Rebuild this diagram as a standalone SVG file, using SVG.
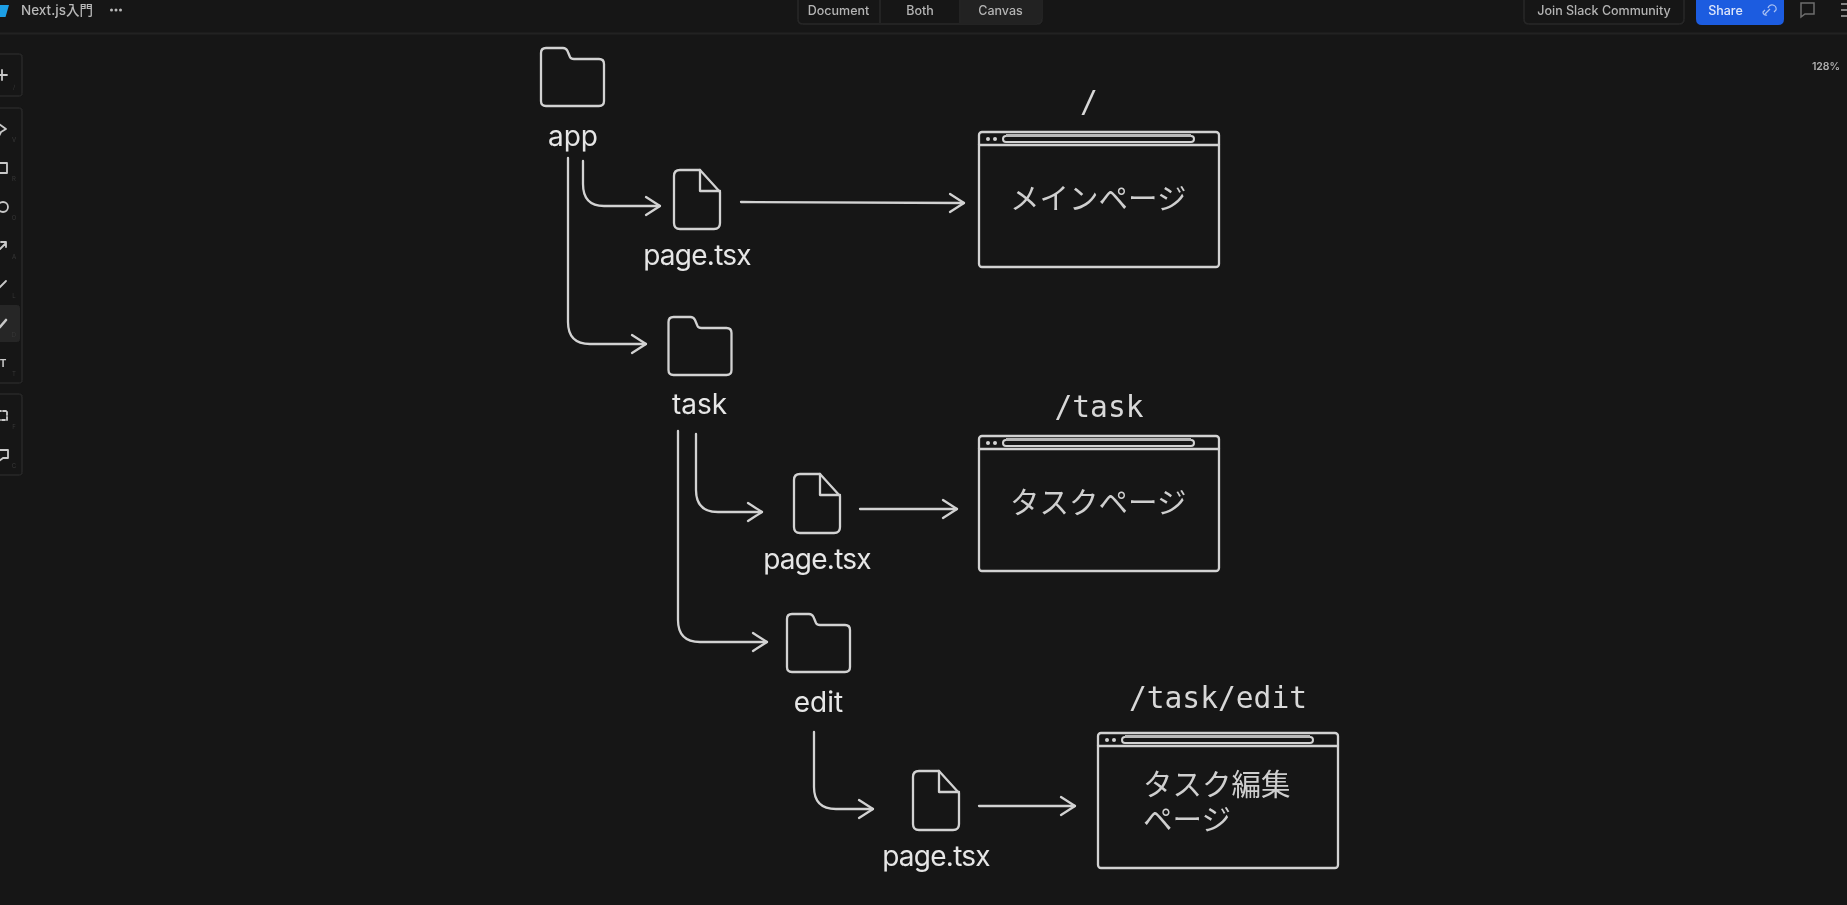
<svg xmlns="http://www.w3.org/2000/svg" width="1847" height="905" viewBox="0 0 1847 905">
<style>
.s{fill:none;stroke:#d2d2d2;stroke-width:2.3;stroke-linecap:round;stroke-linejoin:round}
.n{font-family:"Inter","Liberation Sans",sans-serif;font-size:28px;fill:#e6e6e6;text-anchor:middle}
.p{letter-spacing:-.75px}
.j{font-family:"Noto Sans CJK JP",sans-serif;font-weight:400;font-size:29.5px;fill:#cfcfcf}
.m{font-family:"DejaVu Sans Mono","Liberation Mono",monospace;font-size:29.6px;fill:#d8d8d8;text-anchor:middle}
.u{font-family:"Inter","Liberation Sans",sans-serif;font-size:12.5px;font-weight:500;fill:#b4b4b4;text-anchor:middle}
.b{fill:none;stroke:#262626;stroke-width:1.5}
.i{fill:none;stroke:#c8c8c8;stroke-width:1.8;stroke-linecap:round;stroke-linejoin:round}
.k{font-family:"Inter","Liberation Sans",sans-serif;font-size:6px;fill:#383838;text-anchor:middle}
</style>
<defs>
<filter id="soft" x="0" y="0" width="1" height="1"><feGaussianBlur stdDeviation="0.55"/></filter>
<marker id="ah" markerUnits="userSpaceOnUse" markerWidth="20" markerHeight="24" refX="15" refY="10" orient="auto" overflow="visible"><path d="M1 1 L15 10 L1 19" fill="none" stroke="#d2d2d2" stroke-width="2.3" stroke-linecap="round" stroke-linejoin="round"/></marker>
<g id="folder"><path class="s" d="M5 0H22Q25 0 26.500 3L29 9Q30 11 33 11H58Q63 11 63 16V53Q63 58 58 58H5Q0 58 0 53V5Q0 0 5 0Z"/></g>
<g id="file"><path class="s" d="M6 0H26L46 22V53Q46 59 40 59H6Q0 59 0 53V6Q0 0 6 0Z"/><path class="s" d="M26 0V21H46"/></g>
<g id="win"><rect class="s" x="0" y="0" width="240" height="135" rx="3"/><path class="s" d="M0 13H240"/><rect class="s" x="24" y="4" width="191" height="6" rx="3" style="stroke-width:2"/><path d="M27 3.500H212" stroke="#b8b8b8" stroke-width="3"/><circle cx="9" cy="7" r="2" fill="#d2d2d2"/><circle cx="16" cy="7" r="2" fill="#d2d2d2"/></g>
</defs>
<rect width="1847" height="905" fill="#161616"/>
<g filter="url(#soft)">
<g id="topbar">
<path d="M0 33.500H1847" stroke="#212121" stroke-width="2"/>
<path d="M0 5H9L5.500 17H0Z" fill="#1f9fe6"/>
<text x="21" y="15" font-family="Inter,'Noto Sans CJK JP',sans-serif" font-size="13.500" font-weight="500" fill="#b8b8b8">Next.js入門</text>
<g fill="#b8b8b8"><circle cx="111.500" cy="10" r="1.500"/><circle cx="116" cy="10" r="1.500"/><circle cx="120.500" cy="10" r="1.500"/></g>
<path d="M961 0H1042V19Q1042 24 1037 24H961Z" fill="#222"/>
<path class="b" d="M798 0V19Q798 24 803 24H1037Q1042 24 1042 19V0M880 0V24M960 0V24"/>
<text class="u" x="838.500" y="15">Document</text><text class="u" x="920" y="15">Both</text><text class="u" x="1000.500" y="15">Canvas</text>
<path class="b" d="M1524 0V19Q1524 24 1529 24H1679Q1684 24 1684 19V0"/>
<text class="u" x="1604" y="15">Join Slack Community</text>
<path d="M1696 0H1784V19Q1784 25 1778 25H1702Q1696 25 1696 19Z" fill="#1f5ce0"/>
<text class="u" x="1725.500" y="15" style="fill:#dfe8fb">Share</text>
<path d="M1765 14L1770 9M1767 15a3 3 0 0 1-4-3l2-2M1768 8a3 3 0 0 1 8 2l-2 2" fill="none" stroke="#a9c2f2" stroke-width="1.200"/>
<path d="M1801 3H1814V14H1805L1801 17Z" fill="none" stroke="#6e6e6e" stroke-width="1.500"/>
<path d="M1841 4H1847M1841 10H1847M1841 16H1847" stroke="#a8a8a8" stroke-width="1.500"/>
<text x="1826" y="70" font-family="Inter,sans-serif" font-size="10.500" font-weight="600" fill="#b0b0b0" text-anchor="middle">128%</text>
</g>
<g id="toolbar">
<rect x="-6" y="54" width="28" height="42" rx="3" class="b"/>
<rect x="-6" y="108" width="28" height="275" rx="3" class="b"/>
<rect x="-6" y="394" width="28" height="81" rx="3" class="b"/>
<rect x="-6" y="305" width="26" height="37" rx="3" fill="#262626"/>
<path class="i" d="M-3 75H7M2 70V80"/>
<path class="i" d="M-1 124L6 129L1 132L-1 136"/>
<path class="i" d="M-2 163H7V173H-2"/>
<circle class="i" cx="3" cy="207" r="5"/>
<path class="i" d="M0 249L6 243M1 242H6V247"/>
<path class="i" d="M-1 288L6 281"/>
<path class="i" d="M0 327L6 320" style="stroke-width:2.600"/>
<text x="3" y="367" font-family="Inter,sans-serif" font-size="10" font-weight="700" fill="#c8c8c8" text-anchor="middle">T</text>
<path class="i" stroke-dasharray="3 2" d="M-2 411H7V420H-2"/>
<path class="i" d="M-2 450H8V458H3L-1 461"/>
<text class="k" x="14" y="89">/</text><text class="k" x="14" y="142">V</text><text class="k" x="14" y="181">R</text><text class="k" x="14" y="220">O</text><text class="k" x="14" y="259">A</text><text class="k" x="14" y="298">L</text><text class="k" x="14" y="337">D</text><text class="k" x="14" y="376">T</text><text class="k" x="14" y="429">F</text><text class="k" x="14" y="468">C</text>
</g>
<g id="connectors">
<path class="s" marker-end="url(#ah)" d="M583 161V184Q583 206 604 206H660"/>
<path class="s" marker-end="url(#ah)" d="M741 202L964 203"/>
<path class="s" marker-end="url(#ah)" d="M568 158V322Q568 344 590 344H646"/>
<path class="s" marker-end="url(#ah)" d="M696 434V490Q696 512 718 512H762"/>
<path class="s" marker-end="url(#ah)" d="M860 509H957"/>
<path class="s" marker-end="url(#ah)" d="M678 431V620Q678 642 700 642H767"/>
<path class="s" marker-end="url(#ah)" d="M814 732V787Q814 809 836 809H873"/>
<path class="s" marker-end="url(#ah)" d="M979 806H1075"/>
</g>
<g id="app"><use href="#folder" x="541" y="48"/><text class="n" x="573" y="146">app</text></g>
<g id="page1"><use href="#file" x="674" y="170"/><text class="n p" x="697" y="265">page.tsx</text></g>
<g id="task"><use href="#folder" x="668.500" y="317"/><text class="n" x="699.500" y="414">task</text></g>
<g id="page2"><use href="#file" x="794" y="474"/><text class="n p" x="817" y="569">page.tsx</text></g>
<g id="edit"><use href="#folder" x="787" y="614"/><text class="n" x="818.500" y="712">edit</text></g>
<g id="page3"><use href="#file" x="913" y="771"/><text class="n p" x="936" y="866">page.tsx</text></g>
<g id="main-window"><use href="#win" x="979" y="132"/><text class="m" x="1089" y="112">/</text><text class="j" x="1010" y="208.500">メインページ</text></g>
<g id="task-window"><use href="#win" x="979" y="436"/><text class="m" x="1099" y="417">/task</text><text class="j" x="1010" y="512.500">タスクページ</text></g>
<g id="edit-window"><use href="#win" x="1098" y="733"/><text class="m" x="1218" y="708">/task/edit</text><text class="j"><tspan x="1143" y="795">タスク編集</tspan><tspan x="1143" y="830">ページ</tspan></text></g>
</g>
</svg>
